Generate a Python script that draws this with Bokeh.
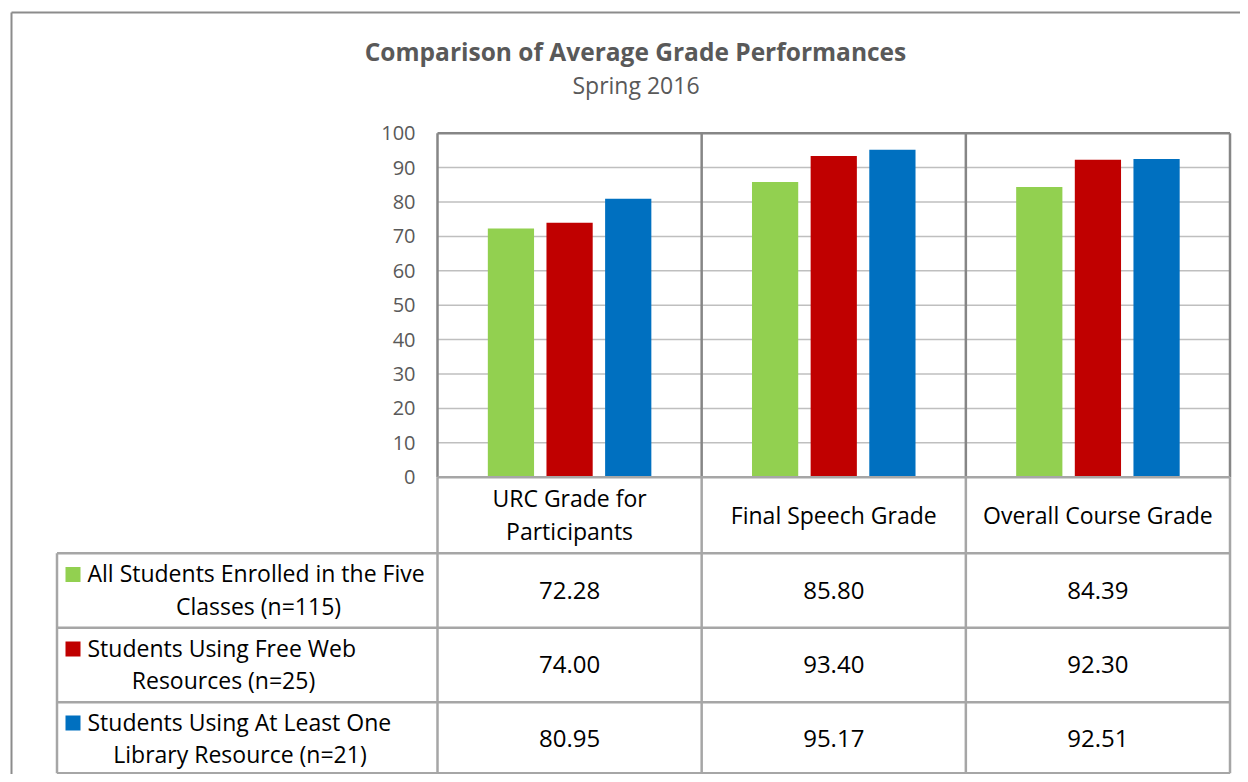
from bokeh.plotting import figure
from bokeh.models import Range1d, ColumnDataSource
from bokeh.core.properties import value
from bokeh.embed import file_html
from bokeh.resources import INLINE

# ---------------- data ----------------
categories = ["URC Grade for\nParticipants", "Final Speech Grade", "Overall Course Grade"]
series_names = [
    "All Students Enrolled in the Five\nClasses (n=115)",
    "Students Using Free Web\nResources (n=25)",
    "Students Using At Least One\nLibrary Resource (n=21)",
]
all_students = [72.28, 85.80, 84.39]
free_web = [74.00, 93.40, 92.30]
library = [80.95, 95.17, 92.51]
series_colors = ["#92D050", "#C00000", "#0070C0"]
y_ticks = [0, 10, 20, 30, 40, 50, 60, 70, 80, 90, 100]
title_text = "Comparison of Average Grade Performances"
subtitle_text = "Spring 2016"

FONT = "Open Sans"

# ---------------- layout helpers (pixels -> data units) ----------------
X0, UX = 437.0, 264.17   # x=0 at px 437, one category = 264.17 px
Y0, UY = 476.7, 3.44     # y=0 at px 476.7, one grade point = 3.44 px
BL = 8.0                 # baseline correction for alphabetic text


def xd(px):
    return (px - X0) / UX


def yd(py):
    return (Y0 - py) / UY


def yb(py):
    return yd(py - BL)


W, H = 1240, 774
p = figure(width=W, height=H, output_backend="svg", toolbar_location=None,
           x_range=Range1d(xd(0), xd(W)), y_range=Range1d(yd(H), yd(0)),
           x_axis_location=None, y_axis_location=None,
           min_border=0, min_border_left=0, min_border_right=0,
           min_border_top=0, min_border_bottom=0)
p.grid.visible = False
p.outline_line_color = None
p.background_fill_color = "white"
p.border_fill_color = "white"

ncat = len(categories)

# ---------------- outer chart border (left & top) ----------------
OUT = "#8C8C8C"
p.segment(x0=[xd(11), xd(11)], y0=[yd(12), yd(12)], x1=[xd(11), xd(1300)], y1=[yd(800), yd(12)],
          line_color=OUT, line_width=2)

# ---------------- gridlines ----------------
grid_ticks = [t for t in y_ticks if 0 < t < max(y_ticks)]
p.segment(x0=[0] * len(grid_ticks), x1=[ncat] * len(grid_ticks), y0=grid_ticks, y1=grid_ticks,
          line_color="#BFBFBF", line_width=1.5)

# ---------------- bars ----------------
offsets = [-0.222, 0.0, 0.222]
bar_w = 0.175
for vals, col, off in zip([all_students, free_web, library], series_colors, offsets):
    src = ColumnDataSource(dict(x=[i + 0.5 + off for i in range(ncat)], top=vals))
    p.vbar(x="x", top="top", bottom=0, width=bar_w, source=src, fill_color=col, line_color=None)

# ---------------- plot-area frame ----------------
FRAME = "#868686"
top_val = max(y_ticks)
p.segment(x0=[0], x1=[ncat], y0=[top_val], y1=[top_val], line_color=FRAME, line_width=2.5)
p.segment(x0=list(range(ncat + 1)), x1=list(range(ncat + 1)), y0=[0] * (ncat + 1),
          y1=[top_val] * (ncat + 1), line_color=FRAME, line_width=2.5)

# ---------------- y tick labels ----------------
p.text(x=[xd(415)] * len(y_ticks), y=y_ticks, text=[str(t) for t in y_ticks],
       text_align="right", text_baseline="middle", text_font=value(FONT),
       text_font_size="20px", text_color="#595959")

# ---------------- data table ----------------
TBL = "#A6A6A6"
row_py = [476.7, 552.7, 627.3, 701.7, 772.8]
row_y = [yd(v) for v in row_py]
left_col = xd(56.5)
# horizontal lines
p.segment(x0=[0], x1=[ncat], y0=[row_y[0]], y1=[row_y[0]], line_color=TBL, line_width=2.5)
p.segment(x0=[left_col] * 4, x1=[ncat] * 4, y0=row_y[1:], y1=row_y[1:], line_color=TBL, line_width=2.5)
# vertical lines
p.segment(x0=list(range(ncat + 1)), x1=list(range(ncat + 1)), y0=[row_y[0]] * (ncat + 1),
          y1=[row_y[-1]] * (ncat + 1), line_color=TBL, line_width=2.5)
p.segment(x0=[left_col], x1=[left_col], y0=[row_y[1]], y1=[row_y[-1]], line_color=TBL, line_width=2.5)

TXT = "23px"

# header row: category names
hx, hy, ht = [], [], []
for i, c in enumerate(categories):
    lines = c.split("\n")
    mid = (row_py[0] + row_py[1]) / 2 + 7.5
    n = len(lines)
    for k, ln in enumerate(lines):
        hx.append(i + 0.5)
        hy.append(yb(mid + (k - (n - 1) / 2) * 33.3))
        ht.append(ln)
p.text(x=hx, y=hy, text=ht, text_align="center", text_baseline="alphabetic",
       text_font=value(FONT), text_font_size=TXT, text_color="#000000")

# value rows
row_mid = [590.0, 664.5, 738.5]
vx, vy, vt = [], [], []
for r, vals in enumerate([all_students, free_web, library]):
    for i, v in enumerate(vals):
        vx.append(i + 0.5)
        vy.append(yb(row_mid[r] + 7.5))
        vt.append("%.2f" % v)
p.text(x=vx, y=vy, text=vt, text_align="center", text_baseline="alphabetic",
       text_font=value(FONT), text_font_size="24px", text_color="#000000")

# legend column
line2_center_px = [258, 223, 239.5]
kx, ky = [], []
l1x, l1y, l1t, l2x, l2y, l2t = [], [], [], [], [], []
for r, name in enumerate(series_names):
    mid = row_mid[r]
    a, b = name.split("\n")
    kx.append(xd(72.5))
    ky.append(yd(mid - 16))
    l1x.append(xd(87)); l1y.append(yb(mid - 9.5)); l1t.append(a)
    l2x.append(xd(line2_center_px[r])); l2y.append(yb(mid + 23)); l2t.append(b)
p.scatter(x=kx, y=ky, marker="square", size=15, fill_color=series_colors, line_color=None)
p.text(x=l1x, y=l1y, text=l1t, text_align="left", text_baseline="alphabetic",
       text_font=value(FONT), text_font_size=TXT, text_color="#000000")
p.text(x=l2x, y=l2y, text=l2t, text_align="center", text_baseline="alphabetic",
       text_font=value(FONT), text_font_size=TXT, text_color="#000000")

# ---------------- titles ----------------
p.text(x=[xd(635)], y=[yb(59)], text=[title_text], text_align="center", text_baseline="alphabetic",
       text_font=value(FONT), text_font_style="bold", text_font_size="24.5px", text_color="#595959")
p.text(x=[xd(635.5)], y=[yb(92)], text=[subtitle_text], text_align="center", text_baseline="alphabetic",
       text_font=value(FONT), text_font_size="23px", text_color="#595959")

open("out.html", "w").write(file_html(p, INLINE))
